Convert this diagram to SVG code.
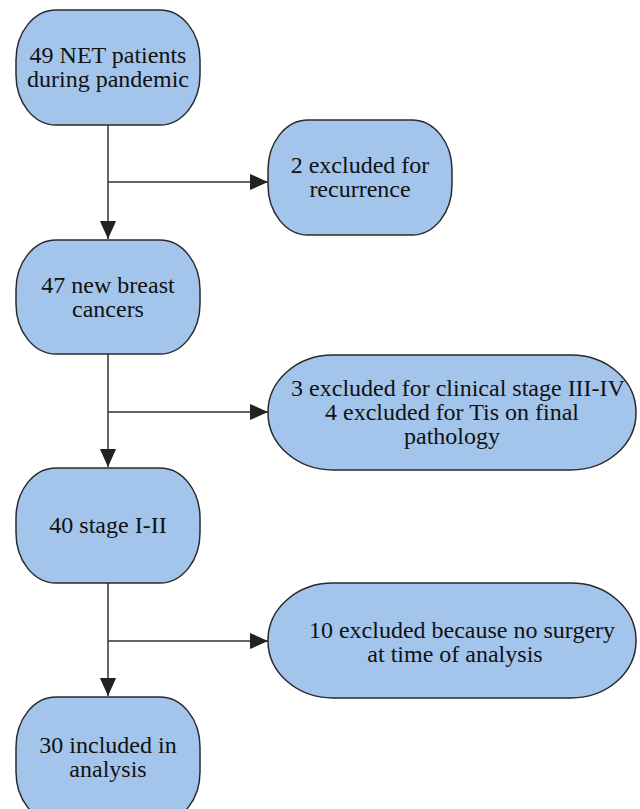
<svg xmlns="http://www.w3.org/2000/svg" width="640" height="809" viewBox="0 0 640 809">
<style>
.n{fill:#a3c5ec;stroke:#2a2a2a;stroke-width:1.5}
.t{font-family:"Liberation Serif","DejaVu Serif",serif;font-size:24px;fill:#111;text-anchor:middle}
.c{fill:none;stroke:#333;stroke-width:1.5}
</style>
<defs>
<marker id="a" viewBox="0 0 10 10" refX="10" refY="5" markerWidth="20" markerHeight="18" markerUnits="userSpaceOnUse" orient="auto">
<path d="M0,0.5L10,5L0,9.5z" fill="#222"/>
</marker>
</defs>
<rect width="640" height="809" fill="#fff"/>
<g id="connectors">
<path class="c" d="M108,125V239" marker-end="url(#a)"/>
<path class="c" d="M108,182H268" marker-end="url(#a)"/>
<path class="c" d="M108,354V467" marker-end="url(#a)"/>
<path class="c" d="M108,412H268" marker-end="url(#a)"/>
<path class="c" d="M108,583V696" marker-end="url(#a)"/>
<path class="c" d="M108,641H268" marker-end="url(#a)"/>
</g>
<g id="n1"><rect class="n" x="16" y="10" width="184" height="115" rx="40" ry="50"/>
<text class="t" x="108" y="63">49 NET patients</text><text class="t" x="108" y="87">during pandemic</text></g>
<g id="n2"><rect class="n" x="268" y="120" width="184" height="115" rx="40" ry="50"/>
<text class="t" x="360" y="173">2 excluded for</text><text class="t" x="360" y="197">recurrence</text></g>
<g id="n3"><rect class="n" x="16" y="240" width="184" height="114" rx="40" ry="50"/>
<text class="t" x="108" y="293">47 new breast</text><text class="t" x="108" y="317">cancers</text></g>
<g id="n4"><rect class="n" x="268" y="355" width="368" height="115" rx="65" ry="57"/>
<text class="t" x="458" y="396">3 excluded for clinical stage III-IV</text><text class="t" x="452" y="420">4 excluded for Tis on final</text><text class="t" x="452" y="444">pathology</text></g>
<g id="n5"><rect class="n" x="16" y="468" width="184" height="115" rx="40" ry="50"/>
<text class="t" x="108" y="533">40 stage I-II</text></g>
<g id="n6"><rect class="n" x="268" y="583" width="368" height="115" rx="65" ry="57"/>
<text class="t" x="462" y="638">10 excluded because no surgery</text><text class="t" x="455" y="662">at time of analysis</text></g>
<g id="n7"><rect class="n" x="16" y="697" width="184" height="125" rx="40" ry="50"/>
<text class="t" x="108" y="753">30 included in</text><text class="t" x="108" y="777">analysis</text></g>
</svg>
